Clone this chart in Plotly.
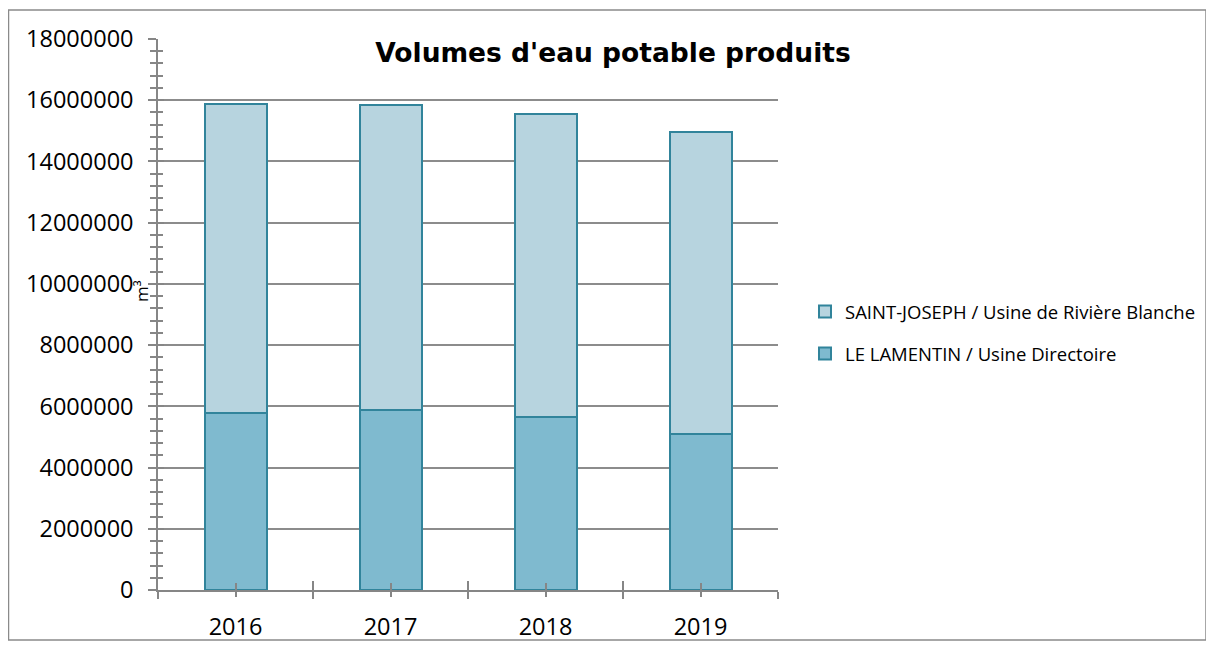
import plotly.graph_objects as go

years = ["2016", "2017", "2018", "2019"]
x_pos = [0, 1, 2, 3]
lamentin = [5770000, 5880000, 5660000, 5110000]
saint_joseph = [10110000, 9960000, 9890000, 9850000]
totals = [a + b for a, b in zip(lamentin, saint_joseph)]

name_lamentin = "LE LAMENTIN / Usine Directoire"
name_sj = "SAINT-JOSEPH / Usine de Rivière Blanche"

edge = "#31849B"
axis_grey = "#868686"
tick_font = dict(family="Open Sans", size=23.5, color="#000000")

# page body has an 8px margin, so the figure is laid out 8px up/left of the screen positions
W, H = 1206, 640
pl, pr, pt, pb = 150, 770, 31, 582   # plot area in figure px

fig = go.Figure()
fig.add_trace(go.Bar(
    x=x_pos, y=lamentin, name=name_lamentin, width=0.4,
    legendgroup="a", legendrank=2,
    marker=dict(color="#7FBACF", line=dict(color=edge, width=2)),
))
fig.add_trace(go.Bar(
    x=x_pos, y=saint_joseph, name=name_sj, width=0.4,
    legendgroup="b", legendrank=1,
    marker=dict(color="#B7D4DF", line=dict(color=edge, width=2)),
))
# invisible helper trace so the overlaid axes (inner half of the cross ticks) get drawn
fig.add_trace(go.Scatter(
    x=x_pos, y=totals, xaxis="x2", yaxis="y2", mode="markers",
    marker=dict(opacity=0), showlegend=False, hoverinfo="skip",
))

boundaries = [-0.5, 0.5, 1.5, 2.5, 3.5]
pw, ph = pr - pl, pb - pt

fig.update_layout(
    barmode="stack",
    width=W, height=H,
    margin=dict(l=pl, r=W - pr, t=pt, b=H - pb, autoexpand=False),
    paper_bgcolor="white", plot_bgcolor="white",
    title=dict(
        text="<b>Volumes d'eau potable produits</b>",
        font=dict(family="DejaVu Sans", size=26.5, color="#000000"),
        x=605 / W, xanchor="center", xref="container",
        y=1 - 45 / H, yanchor="middle", yref="container",
    ),
    xaxis=dict(
        range=[-0.5, 3.5], tickmode="array", tickvals=x_pos, ticktext=years,
        ticks="outside", ticklen=5, tickwidth=1.5, tickcolor=axis_grey,
        minor=dict(tickmode="array", tickvals=boundaries, ticks="outside",
                   ticklen=7, tickwidth=1.5, tickcolor=axis_grey, showgrid=False),
        showline=True, linecolor=axis_grey, linewidth=1.5,
        showgrid=False, zeroline=False, tickfont=tick_font,
        ticklabelstandoff=10, automargin=False,
    ),
    xaxis2=dict(
        overlaying="x", matches="x", anchor="y", side="bottom",
        tickmode="array", tickvals=x_pos, ticks="inside", ticklen=7,
        tickwidth=1.5, tickcolor=axis_grey,
        minor=dict(tickmode="array", tickvals=boundaries, ticks="inside",
                   ticklen=9, tickwidth=1.5, tickcolor=axis_grey, showgrid=False),
        showticklabels=False, showgrid=False, showline=False, zeroline=False,
        automargin=False,
    ),
    yaxis=dict(
        range=[0, 18000000], dtick=2000000, tick0=0, tickformat="d",
        ticks="outside", ticklen=8, tickwidth=1.5, tickcolor=axis_grey,
        minor=dict(dtick=400000, ticks="outside", ticklen=6, tickwidth=1.5,
                   tickcolor=axis_grey, showgrid=False),
        showline=True, linecolor=axis_grey, linewidth=1.5,
        showgrid=True, gridcolor="#8c8c8c", gridwidth=1.5,
        zeroline=False, tickfont=tick_font, ticklabelstandoff=10,
        automargin=False,
    ),
    yaxis2=dict(
        overlaying="y", matches="y", anchor="x", side="left",
        dtick=2000000, tick0=0, ticks="inside", ticklen=6, tickwidth=1.5,
        tickcolor=axis_grey,
        minor=dict(dtick=400000, ticks="inside", ticklen=5, tickwidth=1.5,
                   tickcolor=axis_grey, showgrid=False),
        showticklabels=False, showgrid=False, showline=False, zeroline=False,
        automargin=False,
    ),
    legend=dict(
        x=(797 - pl) / pw, xanchor="left",
        y=(pb - 325) / ph, yanchor="middle",
        traceorder="grouped", tracegroupgap=15,
        font=dict(family="Open Sans", size=18.5, color="#000000"),
        itemwidth=30, bgcolor="rgba(0,0,0,0)",
    ),
    showlegend=True,
)

fig.add_annotation(
    text="m³", textangle=-90, showarrow=False,
    xref="paper", yref="paper", x=(133 - pl) / pw, y=(pb - 283) / ph,
    xanchor="center", yanchor="middle",
    font=dict(family="Open Sans", size=17, color="#000000"),
)

# outer chart-area frame
fig.add_shape(
    type="rect", xref="paper", yref="paper", layer="below",
    x0=(0.5 - pl) / pw, x1=(1198 - pl) / pw,
    y0=(pb - 632) / ph, y1=(pb - 2) / ph,
    line=dict(color="#8a8a8a", width=1.5), fillcolor="rgba(0,0,0,0)",
)

fig.write_html("out.html")
